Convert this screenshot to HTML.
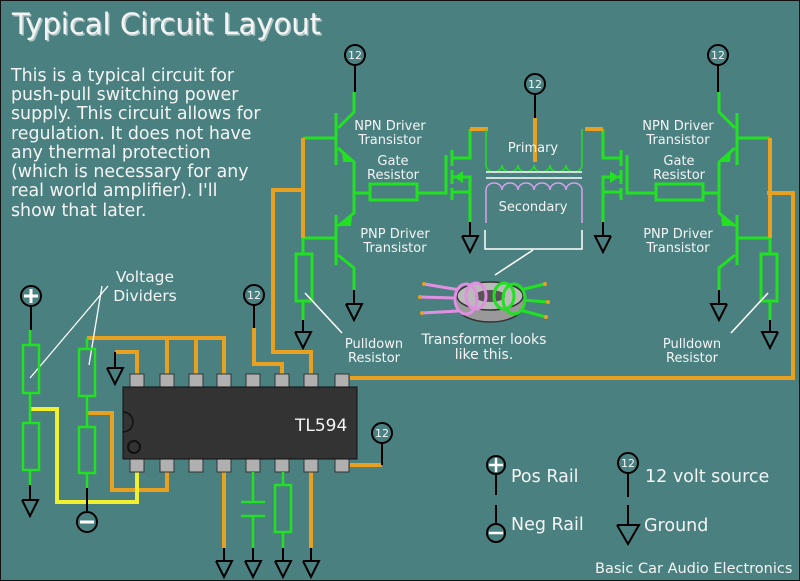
<!DOCTYPE html>
<html><head><meta charset="utf-8"><style>
html,body{margin:0;padding:0;background:#4b8080}
svg{display:block}
text{font-family:"DejaVu Sans","Liberation Sans",sans-serif;fill:#f4f4f4}
</style></head><body>
<svg width="800" height="581" viewBox="0 0 800 581" xmlns="http://www.w3.org/2000/svg">
<defs>
<g id="gnd"><polyline points="-8,0 8,0 0,16 -8,0" fill="none" stroke="#000" stroke-width="2"/></g>
<g id="v12"><circle r="10" fill="#4b8080" stroke="#000" stroke-width="2"/><text x="0" y="4" font-size="11" text-anchor="middle" fill="#fff">12</text></g>
<g id="half">
 <line x1="355" y1="65" x2="355" y2="92" stroke="#000" stroke-width="2"/>
 <g stroke="#22e022" stroke-width="3" fill="none">
  <polyline points="354,92 354,112 338,128"/>
  <line x1="336" y1="113" x2="336" y2="165"/>
  <polyline points="338,148 354,162 354,213 338,226"/>
  <line x1="336" y1="215" x2="336" y2="265"/>
  <polyline points="338,255 354,268 354,290"/>
  <line x1="303" y1="138" x2="336" y2="138"/>
  <line x1="303" y1="238" x2="336" y2="238"/>
  <rect x="370" y="184" width="47" height="16"/>
  <line x1="354" y1="193" x2="370" y2="193"/>
  <polyline points="417,193 446,193 446,155"/>
  <line x1="452" y1="150" x2="452" y2="166"/>
  <line x1="452" y1="170" x2="452" y2="184"/>
  <line x1="452" y1="188" x2="452" y2="200"/>
  <polyline points="452,158 470,158 470,129"/>
  <polyline points="452,177 470,177 470,222"/>
  <line x1="452" y1="192" x2="470" y2="192"/>
  <line x1="303" y1="238" x2="303" y2="254"/>
  <rect x="296" y="254" width="16" height="47"/>
  <line x1="303" y1="301" x2="303" y2="320"/>
 </g>
 <polygon points="342,150 354,162 343,162" fill="#22e022"/>
 <polygon points="340,226 352,216 351,226" fill="#22e022"/>
 <polygon points="454,177 463,171 463,183" fill="#22e022"/>
 <line x1="354" y1="290" x2="354" y2="304" stroke="#000" stroke-width="2"/>
 <use href="#gnd" x="354" y="304"/>
 <line x1="470" y1="222" x2="470" y2="236" stroke="#000" stroke-width="2"/>
 <use href="#gnd" x="470" y="236"/>
 <line x1="303" y1="320" x2="303" y2="332" stroke="#000" stroke-width="2"/>
 <use href="#gnd" x="303" y="332"/>
 <line x1="303" y1="138" x2="303" y2="238" stroke="#e8a020" stroke-width="4"/>
 <line x1="470" y1="129" x2="488" y2="129" stroke="#e8a020" stroke-width="4"/>
 <line x1="305" y1="293" x2="342" y2="333" stroke="#fff" stroke-width="1.5"/>
</g>
</defs>
<rect x="0.5" y="0.5" width="799" height="580" fill="#4b8080" stroke="#111"/>

<text x="12" y="34" font-size="29" fill="#111" opacity="0.6" transform="translate(1.5,1.5)">Typical Circuit Layout</text>
<text x="12" y="34" font-size="29">Typical Circuit Layout</text>
<g font-size="17.4">
<text x="11" y="81">This is a typical circuit for</text>
<text x="11" y="100">push-pull switching power</text>
<text x="11" y="119">supply. This circuit allows for</text>
<text x="11" y="139">regulation. It does not have</text>
<text x="11" y="158">any thermal protection</text>
<text x="11" y="177">(which is necessary for any</text>
<text x="11" y="196">real world amplifier). I'll</text>
<text x="11" y="216">show that later.</text>
</g>

<g stroke="#e8a020" stroke-width="4" fill="none">
 <polyline points="303,190 273,190 273,352 311,352 311,376"/>
 <polyline points="767,193 793,193 793,378 350,378"/>
 <polyline points="87,338 224,338 224,376"/>
 <line x1="167" y1="338" x2="167" y2="376"/>
 <line x1="196" y1="338" x2="196" y2="376"/>
 <polyline points="115,352 137,352 137,376"/>
 <polyline points="254,328 254,364 282,364 282,376"/>
 <line x1="535" y1="118" x2="535" y2="162"/>
 <polyline points="350,465 382,465"/>
 <line x1="224" y1="470" x2="224" y2="548"/>
 <line x1="311" y1="470" x2="311" y2="548"/>
 <polyline points="167,470 167,490 112,490 112,413 87,413"/>
</g>
<polyline points="137,470 137,502 57,502 57,409 30,409" stroke="#f0f030" stroke-width="4" fill="none"/>

<use href="#half"/>
<use href="#half" transform="translate(1073,0) scale(-1,1)"/>
<use href="#v12" x="355" y="55"/>
<use href="#v12" x="718" y="55"/>

<use href="#v12" x="535" y="84"/>
<line x1="535" y1="94" x2="535" y2="118" stroke="#000" stroke-width="2"/>
<path d="M486,129 V165 a8,7 0 0 0 16,0 a8,7 0 0 0 16,0 a8,7 0 0 0 16,0 a8,7 0 0 0 16,0 a8,7 0 0 0 16,0 a8,7 0 0 0 16,0 V129" fill="none" stroke="#22e022" stroke-width="1.5"/>
<line x1="486" y1="172" x2="582" y2="172" stroke="#fff" stroke-width="1.5"/>
<line x1="486" y1="178" x2="582" y2="178" stroke="#fff" stroke-width="1.5"/>
<path d="M486,223 V190 a8,7 0 0 1 16,0 a8,7 0 0 1 16,0 a8,7 0 0 1 16,0 a8,7 0 0 1 16,0 a8,7 0 0 1 16,0 a8,7 0 0 1 16,0 V223" fill="none" stroke="#d8a0e8" stroke-width="1.5"/>
<polyline points="485,230 485,249 582,249 582,230" fill="none" stroke="#fff" stroke-width="1.5"/>
<line x1="533" y1="250" x2="495" y2="275" stroke="#fff" stroke-width="1.5"/>

<g>
 <g stroke-width="3">
  <line x1="424" y1="284" x2="460" y2="290" stroke="#e090e0"/>
  <line x1="420" y1="297" x2="455" y2="298" stroke="#e090e0"/>
  <line x1="422" y1="313" x2="458" y2="311" stroke="#e090e0"/>
  <line x1="520" y1="290" x2="545" y2="284" stroke="#22e022"/>
  <line x1="522" y1="300" x2="548" y2="302" stroke="#22e022"/>
  <line x1="520" y1="310" x2="546" y2="317" stroke="#22e022"/>
 </g>
 <g fill="#e8a020"><circle cx="424" cy="284" r="2"/><circle cx="420" cy="297" r="2"/><circle cx="422" cy="313" r="2"/><circle cx="545" cy="284" r="2"/><circle cx="548" cy="302" r="2"/><circle cx="546" cy="317" r="2"/></g>
 <ellipse cx="490" cy="306" rx="33" ry="16" fill="#999" stroke="#333" stroke-width="1.5"/>
 <rect x="457" y="296" width="66" height="10" fill="#999"/>
 <ellipse cx="490" cy="296" rx="33" ry="14" fill="#bbb" stroke="#333" stroke-width="1.5"/>
 <ellipse cx="490" cy="296" rx="15" ry="6" fill="#555"/>
 <g fill="none" stroke-width="3">
  <ellipse cx="466" cy="299" rx="11" ry="15" stroke="#e090e0"/>
  <ellipse cx="476" cy="296" rx="10" ry="13" stroke="#e090e0"/>
  <ellipse cx="504" cy="296" rx="10" ry="13" stroke="#22e022"/>
  <ellipse cx="514" cy="299" rx="11" ry="15" stroke="#22e022"/>
 </g>
</g>

<g font-size="13" text-anchor="middle">
<text x="390" y="130">NPN Driver</text><text x="390" y="144">Transistor</text>
<text x="393" y="165">Gate</text><text x="393" y="179">Resistor</text>
<text x="395" y="238">PNP Driver</text><text x="395" y="252">Transistor</text>
<text x="533" y="152">Primary</text>
<text x="533" y="211">Secondary</text>
<text x="678" y="130">NPN Driver</text><text x="678" y="144">Transistor</text>
<text x="679" y="165">Gate</text><text x="679" y="179">Resistor</text>
<text x="678" y="238">PNP Driver</text><text x="678" y="252">Transistor</text>
<text x="374" y="348">Pulldown</text><text x="374" y="362">Resistor</text>
<text x="692" y="348">Pulldown</text><text x="692" y="362">Resistor</text>
<text x="484" y="344" font-size="14">Transformer looks</text><text x="484" y="359" font-size="14">like this.</text>
<text x="145" y="282" font-size="15.5">Voltage</text><text x="145" y="301" font-size="15.5">Dividers</text>
</g>
<line x1="108" y1="286" x2="30" y2="378" stroke="#fff" stroke-width="1.3"/>
<line x1="102" y1="286" x2="89" y2="365" stroke="#fff" stroke-width="1.3"/>

<circle cx="31" cy="296" r="10" fill="#4b8080" stroke="#000" stroke-width="2"/>
<path d="M24,296 H38 M31,289 V303" stroke="#fff" stroke-width="3"/>
<line x1="31" y1="306" x2="31" y2="330" stroke="#000" stroke-width="2"/>
<g stroke="#22e022" stroke-width="2.5" fill="none">
 <line x1="30" y1="330" x2="30" y2="345"/><rect x="23" y="345" width="16" height="48"/>
 <line x1="30" y1="393" x2="30" y2="423"/><rect x="23" y="423" width="16" height="47"/>
 <line x1="30" y1="470" x2="30" y2="485"/>
 <rect x="79" y="349" width="16" height="47"/>
 <line x1="87" y1="338" x2="87" y2="349"/><line x1="87" y1="396" x2="87" y2="427"/>
 <rect x="79" y="427" width="16" height="46"/><line x1="87" y1="473" x2="87" y2="488"/>
</g>
<line x1="30" y1="485" x2="30" y2="500" stroke="#000" stroke-width="2"/>
<use href="#gnd" x="30" y="500"/>
<line x1="87" y1="488" x2="87" y2="512" stroke="#000" stroke-width="2"/>
<circle cx="87" cy="522" r="10" fill="#4b8080" stroke="#000" stroke-width="2"/>
<line x1="80" y1="522" x2="94" y2="522" stroke="#fff" stroke-width="3"/>
<line x1="115" y1="352" x2="115" y2="368" stroke="#000" stroke-width="2"/>
<use href="#gnd" x="115" y="368"/>
<use href="#v12" x="254" y="295"/>
<line x1="254" y1="305" x2="254" y2="328" stroke="#000" stroke-width="2"/>

<g fill="#b0b0b0" stroke="#333" stroke-width="1">
 <rect x="130" y="374" width="14" height="13"/><rect x="160" y="374" width="14" height="13"/><rect x="189" y="374" width="14" height="13"/><rect x="217" y="374" width="14" height="13"/><rect x="246" y="374" width="14" height="13"/><rect x="275" y="374" width="14" height="13"/><rect x="304" y="374" width="14" height="13"/><rect x="335" y="374" width="14" height="13"/>
 <rect x="130" y="459" width="14" height="13"/><rect x="160" y="459" width="14" height="13"/><rect x="189" y="459" width="14" height="13"/><rect x="217" y="459" width="14" height="13"/><rect x="246" y="459" width="14" height="13"/><rect x="275" y="459" width="14" height="13"/><rect x="304" y="459" width="14" height="13"/><rect x="335" y="459" width="14" height="13"/>
</g>
<rect x="123" y="387" width="234" height="72" fill="#333" stroke="#111"/>
<path d="M123,412 a10,10 0 0 1 0,20" fill="none" stroke="#111" stroke-width="1.5"/>
<circle cx="134" cy="447" r="6" fill="none" stroke="#111" stroke-width="2"/>
<text x="295" y="431" font-size="17" fill="#d8d8d8">TL594</text>

<use href="#v12" x="382" y="433"/>
<line x1="382" y1="443" x2="382" y2="465" stroke="#000" stroke-width="2"/>
<g stroke="#22e022" stroke-width="2.5" fill="none">
 <line x1="253" y1="472" x2="253" y2="502"/><line x1="241" y1="502" x2="265" y2="502"/>
 <line x1="241" y1="516" x2="265" y2="516"/><line x1="253" y1="516" x2="253" y2="548"/>
 <line x1="283" y1="472" x2="283" y2="485"/><rect x="275" y="485" width="16" height="47"/>
 <line x1="283" y1="532" x2="283" y2="548"/>
</g>
<g stroke="#000" stroke-width="2">
 <line x1="224" y1="548" x2="224" y2="561"/><line x1="253" y1="548" x2="253" y2="561"/>
 <line x1="283" y1="548" x2="283" y2="561"/><line x1="311" y1="548" x2="311" y2="561"/>
</g>
<use href="#gnd" x="224" y="561"/><use href="#gnd" x="253" y="561"/><use href="#gnd" x="283" y="561"/><use href="#gnd" x="311" y="561"/>

<circle cx="496" cy="465" r="9" fill="#4b8080" stroke="#000" stroke-width="2"/>
<path d="M489,465 H503 M496,458 V472" stroke="#fff" stroke-width="2.5"/>
<line x1="496" y1="474" x2="496" y2="495" stroke="#000" stroke-width="2"/>
<line x1="496" y1="505" x2="496" y2="524" stroke="#000" stroke-width="2"/>
<circle cx="496" cy="533" r="9" fill="#4b8080" stroke="#000" stroke-width="2"/>
<line x1="489" y1="533" x2="503" y2="533" stroke="#fff" stroke-width="2.5"/>
<use href="#v12" x="628" y="463"/>
<line x1="628" y1="473" x2="628" y2="497" stroke="#000" stroke-width="2"/>
<line x1="628" y1="505" x2="628" y2="525" stroke="#000" stroke-width="2"/>
<polyline points="617,525 639,525 628,544 617,525" fill="none" stroke="#000" stroke-width="2"/>
<g font-size="17.5">
<text x="511" y="482">Pos Rail</text><text x="511" y="530">Neg Rail</text>
<text x="645" y="482">12 volt source</text><text x="644" y="531">Ground</text>
</g>
<text x="595" y="573" font-size="14.5">Basic Car Audio Electronics</text>
</svg>
</body></html>
